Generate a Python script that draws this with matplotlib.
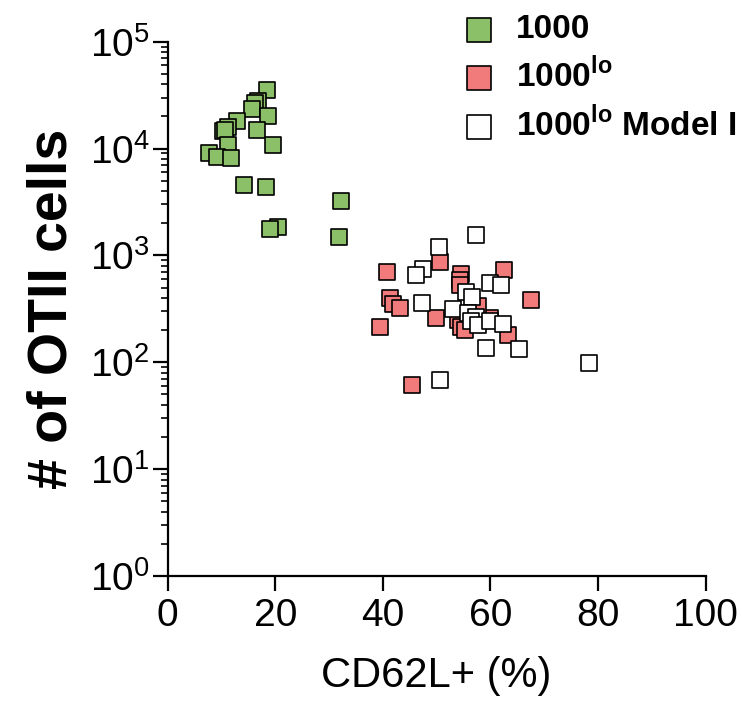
import matplotlib
matplotlib.use('Agg')
import matplotlib.pyplot as plt

plt.rcParams['font.family'] = ['Liberation Sans', 'DejaVu Sans']
plt.rcParams['mathtext.fontset'] = 'custom'
plt.rcParams['mathtext.rm'] = 'Liberation Sans'
plt.rcParams['mathtext.bf'] = 'Liberation Sans:bold'

# 1000 (green)
g_x = [18.4, 16.7, 16.2, 15.6, 18.7, 12.8, 16.6, 10.3, 11.3, 10.6, 11.3, 19.5,
       7.6, 9.2, 11.7, 14.1, 18.2, 32.3, 20.5, 19.1, 31.8]
g_y = [35000, 27600, 26700, 23400, 20400, 18200, 15000, 14700, 15900, 15000, 10900, 10800,
       9080, 8330, 8200, 4520, 4360, 3200, 1840, 1760, 1500]

# 1000lo (red)
r_x = [40.7, 50.7, 54.6, 54.4, 54.3, 62.5, 41.4, 41.9, 43.1, 67.5, 49.9, 39.4,
       54.0, 54.6, 59.9, 63.2, 45.4, 57.6, 55.2]
r_y = [707, 877, 673, 591, 531, 733, 398, 352, 321, 384, 262, 216,
       249, 216, 259, 181, 61, 337, 201]

# 1000lo Model I (white)
w_x = [57.4, 50.4, 47.5, 46.1, 59.9, 61.9, 55.4, 56.6, 47.2, 53.0, 55.8, 57.4,
       56.4, 57.7, 60.0, 62.3, 59.2, 65.3, 50.6, 78.4]
w_y = [1560, 1210, 749, 658, 550, 531, 453, 407, 357, 316, 288, 268,
       246, 224, 246, 229, 136, 133, 68, 99]

fig = plt.figure(figsize=(7.42, 7.2), dpi=100)
ax = fig.add_axes([0.226, 0.2, 0.725, 0.742])

kw = dict(marker='s', s=120, edgecolors='black', linewidths=1.2, clip_on=False)
ax.scatter(g_x, g_y, c='#8cc068', label='1000', zorder=3, **kw)
ax.scatter(r_x, r_y, c='#f07b7a', label=r'1000$^{\mathbf{lo}}$', zorder=3, **kw)
ax.scatter(w_x, w_y, c='white', label=r'1000$^{\mathbf{lo}}$ Model I', zorder=4, **kw)

ax.set_yscale('log')
ax.set_ylim(1, 1e5)
ax.set_xlim(0, 100)
ax.set_xticks([0, 20, 40, 60, 80, 100])
ax.minorticks_on()
ax.tick_params(axis='x', which='minor', bottom=False)

for s in ['top', 'right']:
    ax.spines[s].set_visible(False)
for s in ['left', 'bottom']:
    ax.spines[s].set_linewidth(1.6)

ax.tick_params(which='major', labelsize=28, width=1.6, length=11, pad=2)
ax.tick_params(axis='x', which='major', pad=5)
ax.tick_params(which='minor', width=1.2, length=5)

ax.set_xlabel('CD62L+ (%)', fontsize=30, labelpad=16)
ax.set_ylabel('# of OTII cells', fontsize=40, fontweight='bold', labelpad=8)

leg = fig.legend(loc='upper left', bbox_to_anchor=(0.623, 0.98), frameon=False,
                 prop={'weight': 'bold', 'size': 24}, markerscale=1.55,
                 handlelength=1.0, handletextpad=0.6, labelspacing=0.36,
                 borderaxespad=0, borderpad=0)

plt.savefig('out.png', dpi=100)
